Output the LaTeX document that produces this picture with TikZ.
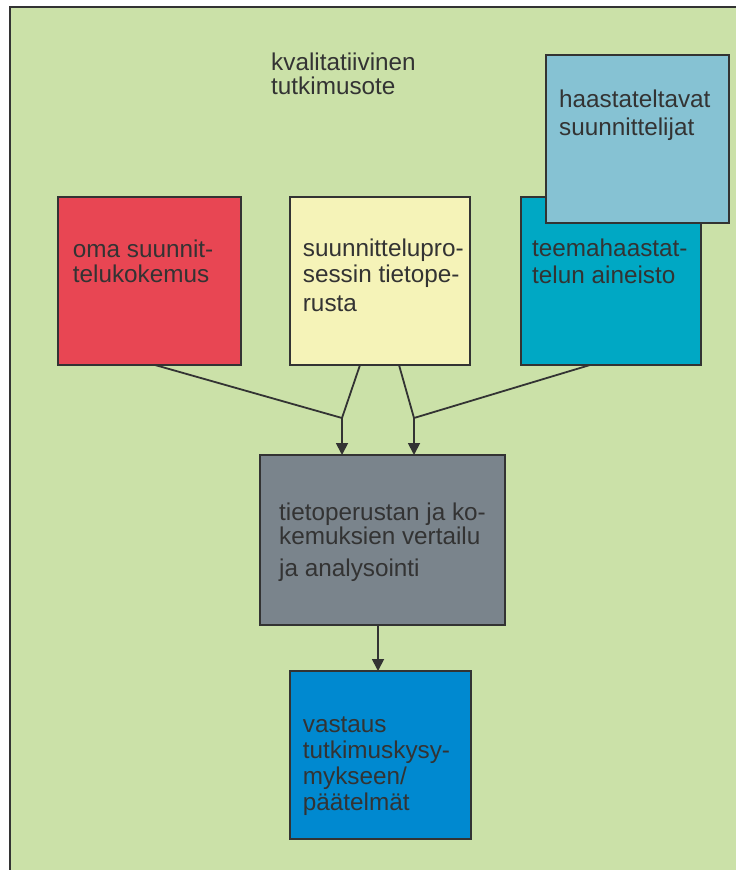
\documentclass[tikz,border=0pt]{standalone}
\usepackage{fontspec}
\setmainfont{Liberation Sans}
\usetikzlibrary{arrows.meta,calc}
\definecolor{bg}{HTML}{CBE1A8}
\definecolor{cred}{HTML}{E84653}
\definecolor{cyel}{HTML}{F5F3B8}
\definecolor{cteal}{HTML}{00A8C4}
\definecolor{clblue}{HTML}{86C2D3}
\definecolor{cgray}{HTML}{7A848C}
\definecolor{cblue}{HTML}{0089D0}
\definecolor{edge}{HTML}{333333}
\definecolor{txtc}{HTML}{333333}
\tikzset{
  box/.style={draw=edge, line width=1.8pt, anchor=north west, inner sep=0pt, outer sep=0pt},
  txt/.style={anchor=base west, inner sep=0pt, text=txtc, font=\fontsize{24.3}{24}\selectfont},
  conn/.style={draw=edge, line width=1.8pt},
  arr/.style={conn, -{Triangle[width=12pt,length=12pt]}},
}
\newcommand{\ptext}[1]{\parbox[t]{320pt}{\raggedright #1}}
\begin{document}
\begin{tikzpicture}[x=1pt,y=-1pt]
\useasboundingbox (0,0) rectangle (736,870);
\fill[white] (0,0) rectangle (736,870);
\fill[bg] (10,7) rectangle (740,875);
\draw[edge, line width=2pt] (10,875) -- (10,7) -- (740,7);

\node[txt] (title) at (271,70.7) {\ptext{kvalitatiivinen\\[0pt]tutkimusote}};

\node[box, fill=cred, minimum width=183pt, minimum height=168pt] (red) at (58,197) {};
\node[txt] (redt) at (72.7,257) {\ptext{oma suunnit-\\[1pt]telukokemus}};

\node[box, fill=cyel, minimum width=180pt, minimum height=168pt] (yel) at (290,197) {};
\node[txt] (yelt) at (302.7,256) {\ptext{suunnittelupro-\\[2.7pt]sessin tietope-\\[5pt]rusta}};

\node[box, fill=cteal, minimum width=180pt, minimum height=168pt] (teal) at (521,197) {};
\node[txt] (tealt) at (532,256.7) {\ptext{teemahaastat-\\[2.7pt]telun aineisto}};

\node[box, fill=clblue, minimum width=183pt, minimum height=168pt] (lblue) at (546,55) {};
\node[txt] (lbluet) at (559,107.7) {\ptext{haastateltavat\\[3.3pt]suunnittelijat}};

\node[box, fill=cgray, minimum width=245pt, minimum height=170pt] (gray) at (260,455) {};
\node[txt] (grayt) at (279,520.7) {\ptext{tietoperustan ja ko-\\[-0.7pt]kemuksien vertailu\\[8.7pt]ja analysointi}};

\node[box, fill=cblue, minimum width=181pt, minimum height=168pt] (blue) at (290,671) {};
\node[txt] (bluet) at (302.7,732.3) {\ptext{vastaus\\[2pt]tutkimuskysy-\\[2pt]mykseen/\\[2pt]päätelmät}};

\coordinate (j1) at (342,418);
\coordinate (j2) at (414,418);

\draw[conn] ([xshift=5.5pt]red.south) -- (j1);
\draw[conn] ([xshift=-20pt]yel.south) -- (j1);
\draw[conn] ([xshift=19pt]yel.south) -- (j2);
\draw[conn] ([xshift=-21pt]teal.south) -- (j2);
\draw[arr] (j1) -- (j1 |- gray.north);
\draw[arr] (j2) -- (j2 |- gray.north);
\draw[arr] ([xshift=-4.5pt]gray.south) -- ([xshift=-4.5pt]gray.south |- blue.north);
\end{tikzpicture}
\end{document}
